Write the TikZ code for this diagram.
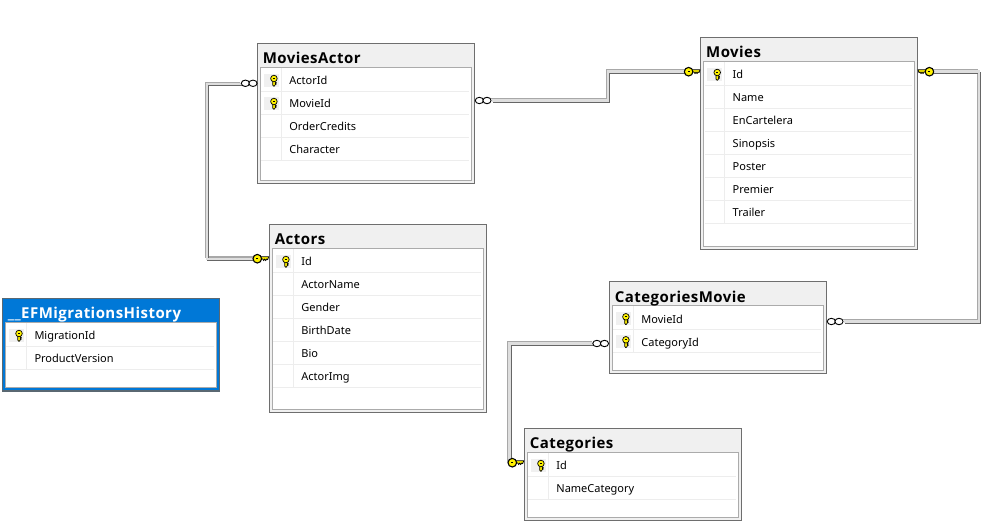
\documentclass[tikz,border=0pt]{standalone}
\usepackage{fontspec}
\setmainfont{Noto Sans}
\newfontfamily\titlefont[LetterSpace=3]{Open Sans}
\usetikzlibrary{calc}
\definecolor{keyy}{HTML}{FFF200}
\definecolor{outerg}{HTML}{6E6E6E}
\definecolor{innerg}{HTML}{ABABAB}
\definecolor{rowg}{HTML}{EDEDED}
\definecolor{headg}{HTML}{F0F0F0}
\definecolor{efblue}{HTML}{0078D7}
\definecolor{efedge}{HTML}{5A6872}
\definecolor{linelight}{HTML}{A8A8A8}
\definecolor{linemid}{HTML}{DEDEDE}
\definecolor{linedark}{HTML}{666666}
\tikzset{
  x=1pt,y=-1pt,
  tablebox/.style={draw=outerg,fill=headg,line width=1pt,inner sep=0pt,minimum width=217pt,anchor=north west},
  efbox/.style={draw=efedge,fill=efblue,line width=1.3pt,inner sep=0pt,minimum width=217pt,anchor=north west},
  innerbox/.style={draw=innerg,fill=white,line width=1pt,inner sep=0pt,minimum width=211pt,anchor=north west},
  titletext/.style={font=\titlefont\fontsize{15}{17}\selectfont\bfseries,text=black,inner sep=0pt,anchor=base west},
  eftitle/.style={font=\titlefont\fontsize{15}{17}\selectfont\bfseries,text=white,inner sep=0pt,anchor=base west},
  rowtext/.style={font=\fontsize{11}{13}\selectfont,text=black,inner sep=0pt,anchor=base west},
  rowrule/.style={draw=rowg,line width=1pt},
  keycell/.style={fill=headg,draw=none},
  conn/.style={
    preaction={draw=linelight,line width=1.3pt,transform canvas={shift={(-1.7pt,1.7pt)}}},
    preaction={draw=linedark,line width=1.9pt,transform canvas={shift={(1.4pt,-1.4pt)}}},
    draw=linemid,line width=2.4pt},
  crowring/.style={draw=black,fill=white,line width=.9pt},
  keyink/.style={draw=black,fill=keyy,line width=.7pt,line join=round},
  vkey/.pic={
    \filldraw[keyink] (-1.2,0) -- (-1.2,4.4) -- (0,5.7) -- (1.2,4.4) -- (1.2,4) -- (2.4,3.3) -- (1.2,2.6) -- (2.4,1.9) -- (1.2,1.2) -- (1.2,0) -- cycle;
    \filldraw[keyink] (0,-2.2) circle[radius=3.3];
    \fill[black] (-1,-3) rectangle (1,-2.4);
  },
  hkey/.pic={
    \filldraw[keyink] (8,-1.9) -- (16,-1.9) -- (15,1) -- (14,.2) -- (13,2) -- (12,.2) -- (11,2) -- (10,.2) -- (8,.6) -- cycle;
    \filldraw[keyink,line width=1.1pt] (4.6,0) circle[radius=4.3];
    \fill[black] (3.6,-.5) rectangle (5.6,.5);
  },
  crow/.pic={
    \filldraw[crowring] (4.2,0) ellipse[x radius=4.1,y radius=3.2];
    \filldraw[crowring] (11.8,0) ellipse[x radius=4.1,y radius=3.2];
  }
}
% style of box, style of title, name, x, y, height, title, rows, number of rows
\newcommand{\dbtable}[9]{%
  \node[#1,minimum height=#6pt] (#3) at (#4,#5) {};
  \node[innerbox,minimum height=#6pt-27pt] (#3in) at (#4+3,#5+24) {};
  \node[#2] (#3title) at (#4+6,#5+20.9) {#7};
  \foreach \k/\t [count=\i from 0] in {#8} {
    \if\k k
      \fill[keycell] (#4+7,#5+31+23*\i) rectangle (#4+22,#5+44+23*\i);
      \pic at (#4+17.2,#5+37.8+23*\i) {vkey};
    \fi
    \node[rowtext] (#3r\i) at (#4+32.5,#5+41.8+23*\i) {\t};
    \draw[rowrule] (#4+4.5,#5+48.4+23*\i) -- (#4+212,#5+48.4+23*\i);
  }
  \draw[rowrule] (#4+24.5,#5+25) -- (#4+24.5,#5+25.4+23*#9);
}
\begin{document}
\begin{tikzpicture}
\useasboundingbox (0,0) rectangle (995,529);
\fill[white] (0,0) rectangle (995,529);

\dbtable{tablebox}{titletext}{moviesactor}{256.7}{42.9}{139.7}{MoviesActor}{k/ActorId,k/MovieId,n/OrderCredits,n/Character}{4}
\dbtable{tablebox}{titletext}{movies}{700}{36.9}{212}{Movies}{k/Id,n/Name,n/EnCartelera,n/Sinopsis,n/Poster,n/Premier,n/Trailer}{7}
\dbtable{tablebox}{titletext}{actors}{268.7}{223.9}{188}{Actors}{k/Id,n/ActorName,n/Gender,n/BirthDate,n/Bio,n/ActorImg}{6}
\dbtable{efbox}{eftitle}{ef}{1.8}{297.9}{92.4}{\_\_EFMigrationsHistory}{k/MigrationId,n/ProductVersion}{2}
\dbtable{tablebox}{titletext}{catmovie}{608.7}{281.2}{91.6}{CategoriesMovie}{k/MovieId,k/CategoryId}{2}
\dbtable{tablebox}{titletext}{categories}{523.7}{427.9}{91.7}{Categories}{k/Id,n/NameCategory}{2}

% connector ends
\coordinate (ma-left) at ($(moviesactor.north west)+(-15,41.1)$);
\coordinate (ma-right) at ($(moviesactor.north east)+(17,57.6)$);
\coordinate (ac-key) at ($(actors.north west)+(-12,34.8)$);
\coordinate (mv-left) at ($(movies.north west)+(-12,34.8)$);
\coordinate (mv-right) at ($(movies.north east)+(12,34.8)$);
\coordinate (cm-left) at ($(catmovie.north west)+(-15,62.3)$);
\coordinate (cm-right) at ($(catmovie.north east)+(17,40.3)$);
\coordinate (ca-key) at ($(categories.north west)+(-12,34.8)$);

\draw[conn] (ma-left) -- (207,84 |- ma-left) |- (ac-key);
\draw[conn] (ma-right) -| (608,85) |- (mv-left);
\draw[conn] (mv-right) -| (979,200) |- (cm-right);
\draw[conn] (cm-left) -- (509.5,0 |- cm-left) |- (ca-key);

\pic at ($(moviesactor.north west)+(-15.5,40.4)$) {crow};
\pic at ($(moviesactor.north east)+(.5,57.6)$) {crow};
\pic at ($(catmovie.north west)+(-16,62.3)$) {crow};
\pic at ($(catmovie.north east)+(.5,40.3)$) {crow};
\pic at ($(actors.north west)+(-16,34.8)$) {hkey};
\pic at ($(movies.north west)+(-16,34.8)$) {hkey};
\pic[xscale=-1] at ($(movies.north east)+(16,34.8)$) {hkey};
\pic at ($(categories.north west)+(-16,34.8)$) {hkey};
\end{tikzpicture}
\end{document}
